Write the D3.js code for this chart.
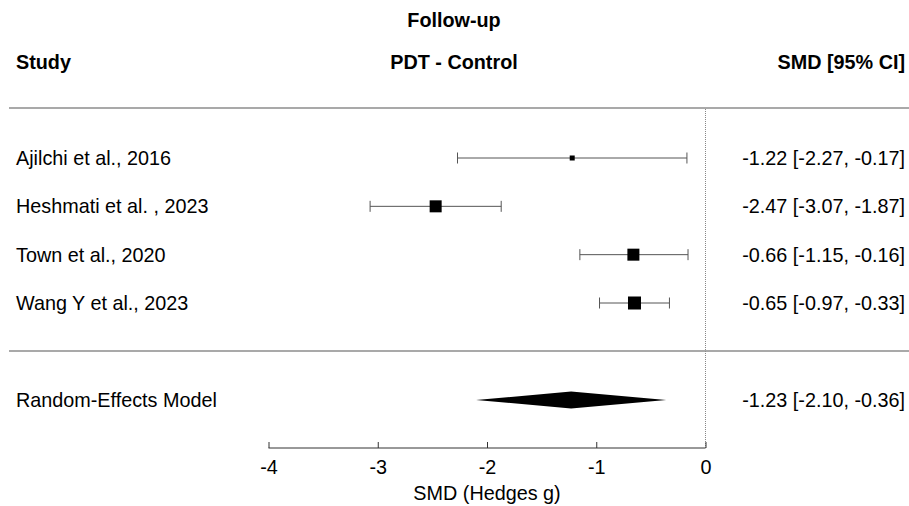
<!DOCTYPE html>
<html>
<head>
<meta charset="utf-8">
<script src="https://cdn.jsdelivr.net/npm/d3@7"></script>
<style>
  body { margin: 0; background: #fff; }
  svg { display: block; font-family: "Liberation Sans", Arial, sans-serif; }
</style>
</head>
<body>
<div id="chart"></div>
<script>
var studies = ['Ajilchi et al., 2016', 'Heshmati et al. , 2023', 'Town et al., 2020', 'Wang Y et al., 2023'];
var estimates = [-1.22, -2.47, -0.66, -0.65];
var lower = [-2.27, -3.07, -1.15, -0.97];
var upper = [-0.17, -1.87, -0.16, -0.33];
var weights = [5, 12, 12, 13]; // square size
var pooled = { label: 'Random-Effects Model', est: -1.23, lo: -2.10, hi: -0.36 };
var ticks = [-4, -3, -2, -1, 0];

var width = 909, height = 506;
var fs = 19.8;
// plain hyphen instead of unicode minus, like the original
var fmt = function(v) { return d3.format('.2f')(v).replace('\u2212', '-'); };

var svg = d3.select('#chart').append('svg')
  .attr('width', width)
  .attr('height', height);

var x = d3.scaleLinear().domain([-4, 0]).range([268.5, 705.5]);
var y = d3.scalePoint().domain(d3.range(studies.length)).range([158, 303]);
var ySum = 400;

// header
svg.append('text').attr('x', 454).attr('y', 27).attr('text-anchor', 'middle')
  .attr('font-size', fs).attr('font-weight', 'bold').text('Follow-up');
svg.append('text').attr('x', 16).attr('y', 69)
  .attr('font-size', fs).attr('font-weight', 'bold').text('Study');
svg.append('text').attr('x', 454).attr('y', 69).attr('text-anchor', 'middle')
  .attr('font-size', fs).attr('font-weight', 'bold').text('PDT - Control');
svg.append('text').attr('x', 905).attr('y', 69).attr('text-anchor', 'end')
  .attr('font-size', fs).attr('font-weight', 'bold').text('SMD [95% CI]');

// separators
[108, 351].forEach(function(yy) {
  svg.append('line').attr('x1', 9).attr('x2', 909).attr('y1', yy).attr('y2', yy)
    .attr('stroke', '#555').attr('stroke-width', 1.2);
});

// reference line at 0
svg.append('line').attr('x1', x(0)).attr('x2', x(0)).attr('y1', 109).attr('y2', 448)
  .attr('stroke', '#888').attr('stroke-width', 1).attr('stroke-dasharray', '1,1');

// study rows
var rows = svg.append('g').selectAll('g').data(studies).join('g');

rows.append('line')
  .attr('x1', function(d, i) { return x(lower[i]); })
  .attr('x2', function(d, i) { return x(upper[i]); })
  .attr('y1', function(d, i) { return y(i); })
  .attr('y2', function(d, i) { return y(i); })
  .attr('stroke', '#555').attr('stroke-width', 1);

rows.selectAll('.cap').data(function(d, i) { return [[lower[i], i], [upper[i], i]]; })
  .join('line')
  .attr('x1', function(c) { return x(c[0]); })
  .attr('x2', function(c) { return x(c[0]); })
  .attr('y1', function(c) { return y(c[1]) - 5.5; })
  .attr('y2', function(c) { return y(c[1]) + 5.5; })
  .attr('stroke', '#555').attr('stroke-width', 1);

rows.append('rect')
  .attr('x', function(d, i) { return x(estimates[i]) - weights[i] / 2; })
  .attr('y', function(d, i) { return y(i) - weights[i] / 2; })
  .attr('width', function(d, i) { return weights[i]; })
  .attr('height', function(d, i) { return weights[i]; })
  .attr('fill', '#000');

rows.append('text')
  .attr('x', 16).attr('y', function(d, i) { return y(i) + 7; })
  .attr('font-size', fs).text(function(d) { return d; });

rows.append('text')
  .attr('x', 905).attr('y', function(d, i) { return y(i) + 7; })
  .attr('text-anchor', 'end').attr('font-size', fs)
  .text(function(d, i) { return fmt(estimates[i]) + ' [' + fmt(lower[i]) + ', ' + fmt(upper[i]) + ']'; });

// pooled estimate
svg.append('path')
  .attr('d', 'M' + x(pooled.lo) + ',' + ySum + 'L' + x(pooled.est) + ',' + (ySum - 8.5) +
    'L' + x(pooled.hi) + ',' + ySum + 'L' + x(pooled.est) + ',' + (ySum + 8.5) + 'Z')
  .attr('fill', '#000');
svg.append('text').attr('x', 16).attr('y', ySum + 7).attr('font-size', fs).text(pooled.label);
svg.append('text').attr('x', 905).attr('y', ySum + 7).attr('text-anchor', 'end').attr('font-size', fs)
  .text(fmt(pooled.est) + ' [' + fmt(pooled.lo) + ', ' + fmt(pooled.hi) + ']');

// x axis
var axis = svg.append('g').attr('transform', 'translate(0,448)')
  .call(d3.axisBottom(x).tickValues(ticks).tickSize(6).tickPadding(6)
    .tickFormat(function(d) { return d3.format('d')(d).replace('\u2212', '-'); }));
axis.select('.domain').remove();
axis.append('line').attr('x1', x(-4)).attr('x2', x(0)).attr('stroke', '#333');
axis.selectAll('.tick line').attr('stroke', '#333').attr('y1', -6).attr('y2', 0);
axis.selectAll('.tick text').attr('font-size', fs).attr('fill', '#000')
  .attr('font-family', '"Liberation Sans", Arial, sans-serif');

svg.append('text').attr('x', x(-2)).attr('y', 500).attr('text-anchor', 'middle')
  .attr('font-size', fs).text('SMD (Hedges g)');
</script>
</body>
</html>
